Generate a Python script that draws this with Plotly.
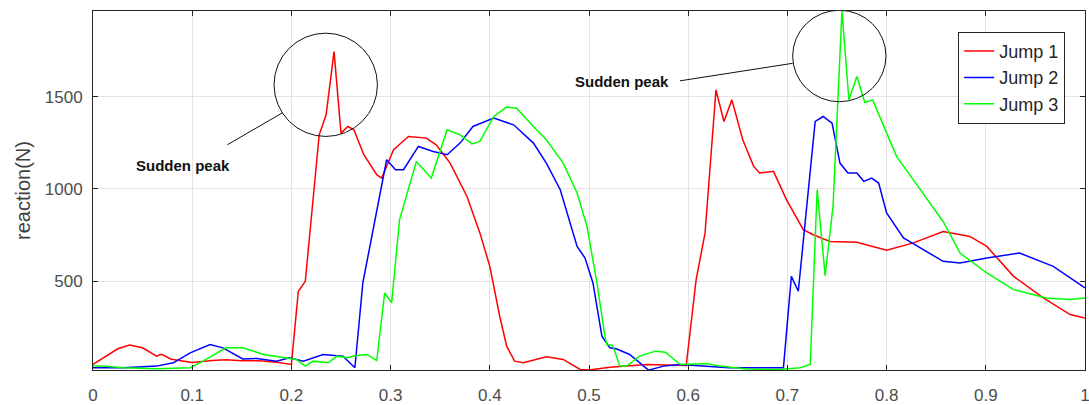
import plotly.graph_objects as go

# ---- data ----
jump1_x = [0, 0.012, 0.025, 0.037, 0.05, 0.064, 0.069, 0.079, 0.094, 0.10, 0.12, 0.134, 0.15, 0.168, 0.185, 0.2,
           0.207, 0.214, 0.228, 0.235, 0.243, 0.250, 0.257, 0.263, 0.273, 0.286, 0.291, 0.303, 0.318, 0.336,
           0.346, 0.360, 0.377, 0.390, 0.400, 0.410, 0.417, 0.425, 0.434, 0.457, 0.474, 0.491, 0.5, 0.521,
           0.558, 0.598, 0.608, 0.617, 0.628, 0.636, 0.644, 0.655, 0.666, 0.672, 0.686, 0.699, 0.716, 0.726,
           0.743, 0.770, 0.800, 0.827, 0.857, 0.884, 0.901, 0.928, 0.958, 0.985, 1.0]
jump1_y = [50, 90, 135, 155, 140, 95, 105, 78, 68, 60, 72, 75, 70, 70, 62, 50,
           446, 500, 1293, 1401, 1743, 1302, 1338, 1320, 1185, 1077, 1059, 1212, 1284, 1275,
           1239, 1140, 959, 762, 581, 311, 149, 68, 59, 91, 77, 23, 20, 35,
           50, 45, 509, 762, 1536, 1365, 1482, 1266, 1122, 1086, 1095, 942, 780, 752,
           716, 711, 668, 708, 770, 743, 689, 527, 410, 320, 302]

jump2_x = [0, 0.031, 0.064, 0.081, 0.098, 0.118, 0.131, 0.151, 0.165, 0.185, 0.198, 0.212, 0.232, 0.252, 0.264,
           0.272, 0.296, 0.305, 0.313, 0.328, 0.343, 0.357, 0.370, 0.383, 0.404, 0.424, 0.444, 0.457, 0.471,
           0.488, 0.496, 0.504, 0.513, 0.521, 0.528, 0.541, 0.560, 0.575, 0.592, 0.619, 0.641, 0.669, 0.696,
           0.704, 0.711, 0.728, 0.736, 0.745, 0.753, 0.761, 0.770, 0.777, 0.785, 0.792, 0.800, 0.817, 0.834,
           0.857, 0.874, 0.901, 0.934, 0.951, 0.968, 1.0]
jump2_y = [32, 32, 41, 59, 113, 158, 140, 80, 82, 68, 86, 68, 104, 95, 32,
           491, 1158, 1104, 1104, 1230, 1203, 1185, 1248, 1338, 1383, 1347, 1248, 1140, 996,
           689, 626, 491, 203, 140, 134, 104, 19, 41, 50, 41, 32, 32, 32,
           527, 446, 1365, 1392, 1356, 1140, 1086, 1086, 1041, 1059, 1032, 870, 735, 680,
           608, 599, 626, 653, 617, 581, 464]

jump3_x = [0, 0.01, 0.031, 0.064, 0.098, 0.111, 0.134, 0.151, 0.172, 0.192, 0.205, 0.214, 0.222, 0.237, 0.246,
           0.256, 0.266, 0.276, 0.286, 0.294, 0.301, 0.309, 0.326, 0.341, 0.357, 0.370, 0.382, 0.390, 0.404,
           0.417, 0.427, 0.444, 0.457, 0.474, 0.488, 0.498, 0.508, 0.516, 0.518, 0.524, 0.531, 0.538, 0.551,
           0.567, 0.577, 0.592, 0.619, 0.632, 0.659, 0.692, 0.713, 0.723, 0.730, 0.738, 0.746, 0.755, 0.762,
           0.770, 0.778, 0.786, 0.810, 0.834, 0.857, 0.874, 0.901, 0.928, 0.961, 0.985, 1.0]
jump3_y = [41, 41, 32, 27, 32, 68, 140, 140, 104, 86, 77, 41, 68, 59, 95,
           86, 98, 104, 71, 437, 383, 833, 1149, 1059, 1320, 1293, 1244, 1257, 1392,
           1443, 1437, 1338, 1266, 1140, 978, 797, 491, 203, 158, 152, 41, 41, 95,
           122, 116, 50, 55, 41, 26, 23, 32, 50, 996, 531, 906, 1963, 1482,
           1608, 1468, 1482, 1176, 996, 824, 653, 545, 455, 410, 401, 410]

series_names = ["Jump 1", "Jump 2", "Jump 3"]
series_colors = ["#ff0000", "#0000ff", "#00ff00"]
y_label = "reaction(N)"
annot_text = "Sudden peak"

FONT = "Liberation Sans, Arial, Helvetica"

fig = go.Figure()
for xs, ys, name, col in zip([jump1_x, jump2_x, jump3_x], [jump1_y, jump2_y, jump3_y],
                             series_names, series_colors):
    fig.add_trace(go.Scatter(x=xs, y=ys, mode="lines", name=name,
                             line=dict(color=col, width=1.5)))

axis_common = dict(showline=True, linecolor="#262626", linewidth=1, mirror="ticks",
                   ticks="inside", ticklen=5, tickcolor="#262626",
                   showgrid=True, gridcolor="#e3e3e3", gridwidth=1, zeroline=False,
                   ticklabeloverflow="allow", automargin=False,
                   tickfont=dict(family=FONT, size=17, color="#4d4d4d"))

fig.update_xaxes(range=[0, 1], dtick=0.1, tick0=0, ticklabelstandoff=10, **axis_common)
fig.update_yaxes(range=[20, 1963], dtick=500, tick0=0, ticklabelstandoff=6,
                 title=dict(text=y_label, font=dict(family=FONT, size=20, color="#404040"),
                            standoff=8),
                 **axis_common)

# circles and pointer lines
fig.add_shape(type="circle", xref="x", yref="y", x0=0.1825, x1=0.2867, y0=1284, y1=1843,
              line=dict(color="#111111", width=1))
fig.add_shape(type="circle", xref="x", yref="y", x0=0.7053, x1=0.7994, y0=1472, y1=1967,
              line=dict(color="#111111", width=1))
fig.add_shape(type="line", xref="x", yref="y", x0=0.1354, y0=1239, x1=0.1913, y1=1413,
              line=dict(color="#111111", width=1))
fig.add_shape(type="line", xref="x", yref="y", x0=0.5917, y0=1585, x1=0.7053, y1=1680,
              line=dict(color="#111111", width=1))

for ax, ay in [(0.0907, 1126), (0.5333, 1580)]:
    fig.add_annotation(x=ax, y=ay, xref="x", yref="y", text="<b>" + annot_text + "</b>",
                       showarrow=False, font=dict(family=FONT, size=15, color="#111111"))

fig.update_layout(
    width=1089, height=405,
    margin=dict(l=93, r=4, t=11, b=35),
    paper_bgcolor="white", plot_bgcolor="white",
    showlegend=True,
    legend=dict(x=0.98, y=0.942, xanchor="right", yanchor="top",
                bgcolor="white", bordercolor="#262626", borderwidth=1,
                font=dict(family=FONT, size=18, color="#262626"),
                tracegroupgap=0),
)

fig.write_html("out.html")
